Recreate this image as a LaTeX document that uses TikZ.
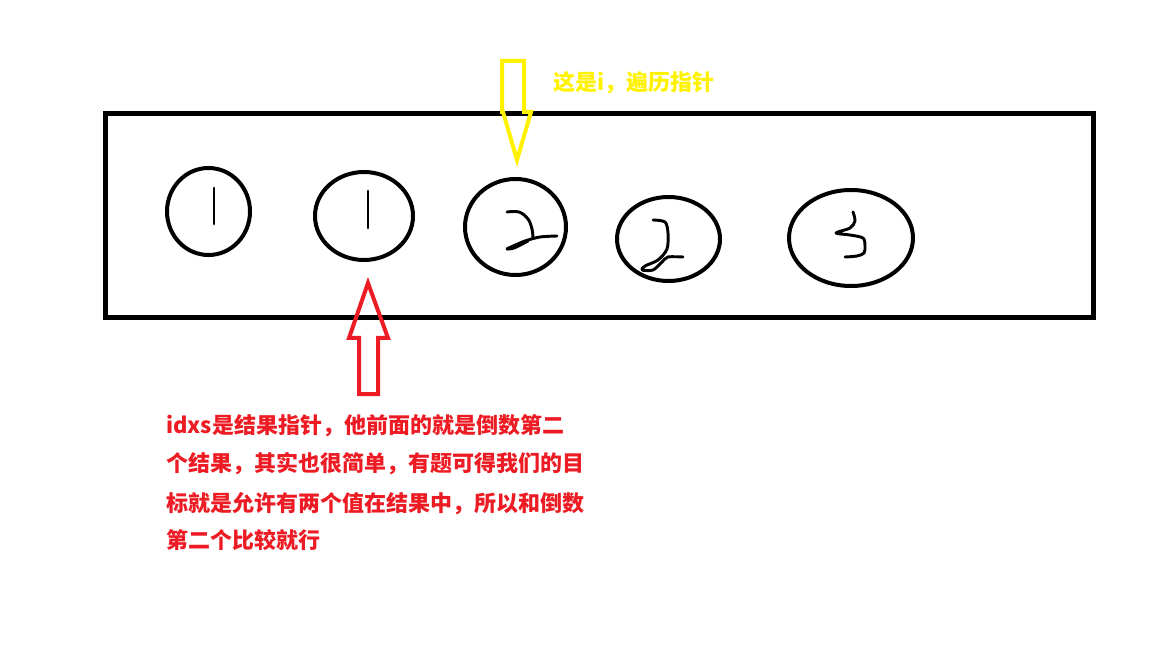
\documentclass[tikz,border=0pt]{standalone}
\usepackage{fontspec}
\usetikzlibrary{shapes.geometric}
\newfontfamily\cjk{Noto Sans CJK SC}
\definecolor{pyellow}{HTML}{FFF200}
\definecolor{pred}{HTML}{ED1C24}
\begin{document}
\begin{tikzpicture}[x=0.75pt,y=-0.75pt,
  frame/.style={draw=black,line width=3.75pt,inner sep=0pt,outer sep=0pt},
  cell/.style={draw=black,line width=3pt,ellipse,inner sep=0pt},
  ink/.style={line width=2.2pt,line cap=round,line join=round},
  ptr/.style={line width=3pt,line join=miter},
  lbl/.style={font=\cjk\bfseries\fontsize{16.5}{20}\selectfont,inner sep=0pt,anchor=base west}]
\useasboundingbox (0,0) rectangle (1152,648);
\fill[white] (0,0) rectangle (1152,648);
% frame
\node[frame,minimum width=741pt,minimum height=153pt] (box) at (599,215.5) {};
% cells
\node[cell,minimum width=62.25pt,minimum height=65.25pt] (c1) at (208.5,211.5) {};
\node[cell,minimum width=73.5pt,minimum height=66pt] (c2) at (364,216) {};
\node[cell,minimum width=75.75pt,minimum height=72pt] (c3) at (515.5,227) {};
\node[cell,minimum width=77.25pt,minimum height=63pt] (c4) at (668.5,239) {};
\node[cell,minimum width=93pt,minimum height=72pt] (c5) at (851,238) {};
% handwritten digits
\draw[ink] (214,188)--(214,224);
\draw[ink] (368,191)--(368,228);
\draw[ink] plot[smooth,tension=0.6] coordinates {(507,212) (519,212) (528,219) (532,229) (533,238)};
\draw[ink] plot[smooth,tension=0.5] coordinates {(557,236) (540,237) (525,241) (511,247) (507,249) (514,248) (528,241)};
\draw[ink] plot[smooth,tension=0.5] coordinates {(653,220) (665,222) (668,233) (667,249) (658,260) (645,266) (642,270) (653,270) (662,262) (668,257) (683,257)};
\draw[ink] plot[smooth,tension=0.5] coordinates {(853,212) (855,221) (850,228) (836,233) (850,235) (863,238) (865,246) (864,253) (857,256) (845,257)};
% pointers
\draw[ptr,pyellow] (502,61)--(524,61)--(524,112)--(531,112)--(517,160)--(503,112)--(502,112)--cycle;
\draw[ptr,pred] (368,283)--(388,338)--(378,338)--(378,394)--(359,394)--(359,338)--(349,338)--cycle;
% labels
\node[lbl,text=pyellow] (ti) at (553,91) {这是i，遍历指针};
\node[lbl,text=pred] (t1) at (166,433) {idxs是结果指针，他前面的就是倒数第二};
\node[lbl,text=pred] (t2) at (166,471) {个结果，其实也很简单，有题可得我们的目};
\node[lbl,text=pred] (t3) at (166,511) {标就是允许有两个值在结果中，所以和倒数};
\node[lbl,text=pred] (t4) at (166,548) {第二个比较就行};
\end{tikzpicture}
\end{document}
